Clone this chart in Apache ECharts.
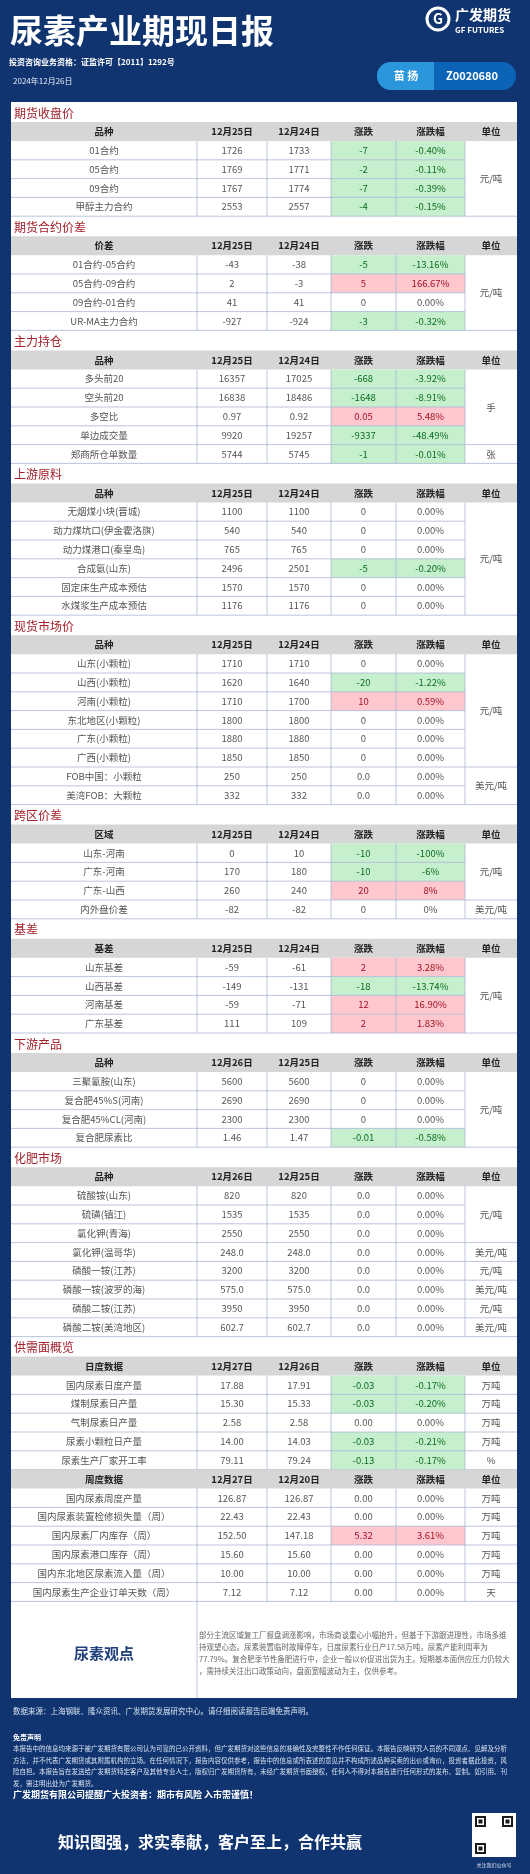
<!DOCTYPE html>
<html><head><meta charset="utf-8">
<script src="https://cdn.jsdelivr.net/npm/echarts@6/dist/echarts.min.js"></script>
<style>html,body{margin:0;padding:0;background:#0f3470}#c{width:530px;height:1874px}</style>
</head><body><div id="c"></div>
<script>
const colHeads = ['品种','12月25日','12月24日','涨跌','涨跌幅','单位'];
const sec1Rows = [['01合约','1726','1733','-7','-0.40%','元/吨'],['05合约','1769','1771','-2','-0.11%','元/吨'],['09合约','1767','1774','-7','-0.39%','元/吨'],['甲醇主力合约','2553','2557','-4','-0.15%','元/吨']];
const sec2Rows = [['01合约-05合约','-43','-38','-5','-13.16%','元/吨'],['05合约-09合约','2','-3','5','166.67%','元/吨'],['09合约-01合约','41','41','0','0.00%','元/吨'],['UR-MA主力合约','-927','-924','-3','-0.32%','元/吨']];
const sec3Rows = [['多头前20','16357','17025','-668','-3.92%','手'],['空头前20','16838','18486','-1648','-8.91%','手'],['多空比','0.97','0.92','0.05','5.48%','手'],['单边成交量','9920','19257','-9337','-48.49%','手'],['郑商所仓单数量','5744','5745','-1','-0.01%','张']];
const sec4Rows = [['无烟煤小块(晋城)','1100','1100','0','0.00%','元/吨'],['动力煤坑口(伊金霍洛旗)','540','540','0','0.00%','元/吨'],['动力煤港口(秦皇岛)','765','765','0','0.00%','元/吨'],['合成氨(山东)','2496','2501','-5','-0.20%','元/吨'],['固定床生产成本预估','1570','1570','0','0.00%','元/吨'],['水煤浆生产成本预估','1176','1176','0','0.00%','元/吨']];
const sec5Rows = [['山东(小颗粒)','1710','1710','0','0.00%','元/吨'],['山西(小颗粒)','1620','1640','-20','-1.22%','元/吨'],['河南(小颗粒)','1710','1700','10','0.59%','元/吨'],['东北地区(小颗粒)','1800','1800','0','0.00%','元/吨'],['广东(小颗粒)','1880','1880','0','0.00%','元/吨'],['广西(小颗粒)','1850','1850','0','0.00%','元/吨'],['FOB中国：小颗粒','250','250','0.0','0.00%','美元/吨'],['美湾FOB：大颗粒','332','332','0.0','0.00%','美元/吨']];
const sec6Rows = [['山东-河南','0','10','-10','-100%','元/吨'],['广东-河南','170','180','-10','-6%','元/吨'],['广东-山西','260','240','20','8%','元/吨'],['内外盘价差','-82','-82','0','0%','美元/吨']];
const sec7Rows = [['山东基差','-59','-61','2','3.28%','元/吨'],['山西基差','-149','-131','-18','-13.74%','元/吨'],['河南基差','-59','-71','12','16.90%','元/吨'],['广东基差','111','109','2','1.83%','元/吨']];
const sec8Rows = [['三聚氰胺(山东)','5600','5600','0','0.00%','元/吨'],['复合肥45%S(河南)','2690','2690','0','0.00%','元/吨'],['复合肥45%CL(河南)','2300','2300','0','0.00%','元/吨'],['复合肥尿素比','1.46','1.47','-0.01','-0.58%','元/吨']];
const sec9Rows = [['硫酸铵(山东)','820','820','0.0','0.00%','元/吨'],['硫磺(镇江)','1535','1535','0.0','0.00%','元/吨'],['氯化钾(青海)','2550','2550','0.0','0.00%','元/吨'],['氯化钾(温哥华)','248.0','248.0','0.0','0.00%','美元/吨'],['磷酸一铵(江苏)','3200','3200','0.0','0.00%','元/吨'],['磷酸一铵(波罗的海)','575.0','575.0','0.0','0.00%','美元/吨'],['磷酸二铵(江苏)','3950','3950','0.0','0.00%','元/吨'],['磷酸二铵(美湾地区)','602.7','602.7','0.0','0.00%','美元/吨']];
const sec10Daily = [['国内尿素日度产量','17.88','17.91','-0.03','-0.17%','万吨'],['煤制尿素日产量','15.30','15.33','-0.03','-0.20%','万吨'],['气制尿素日产量','2.58','2.58','0.00','0.00%','万吨'],['尿素小颗粒日产量','14.00','14.03','-0.03','-0.21%','万吨'],['尿素生产厂家开工率','79.11','79.24','-0.13','-0.17%','%']];
const sec10Weekly = [['国内尿素周度产量','126.87','126.87','0.00','0.00%','万吨'],['国内尿素装置检修损失量（周）','22.43','22.43','0.00','0.00%','万吨'],['国内尿素厂内库存（周）','152.50','147.18','5.32','3.61%','万吨'],['国内尿素港口库存（周）','15.60','15.60','0.00','0.00%','万吨'],['国内东北地区尿素流入量（周）','10.00','10.00','0.00','0.00%','万吨'],['国内尿素生产企业订单天数（周）','7.12','7.12','0.00','0.00%','天']];

const sections = [
 {title:'期货收盘价', tables:[{head:colHeads, rows:sec1Rows, merge:true}]},
 {title:'期货合约价差', tables:[{head:['价差','12月25日','12月24日','涨跌','涨跌幅','单位'], rows:sec2Rows, merge:true}]},
 {title:'主力持仓', tables:[{head:colHeads, rows:sec3Rows, merge:true}]},
 {title:'上游原料', tables:[{head:colHeads, rows:sec4Rows, merge:true}]},
 {title:'现货市场价', tables:[{head:colHeads, rows:sec5Rows, merge:true}]},
 {title:'跨区价差', tables:[{head:['区域','12月25日','12月24日','涨跌','涨跌幅','单位'], rows:sec6Rows, merge:true}]},
 {title:'基差', tables:[{head:['基差','12月25日','12月24日','涨跌','涨跌幅','单位'], rows:sec7Rows, merge:true}]},
 {title:'下游产品', tables:[{head:['品种','12月26日','12月25日','涨跌','涨跌幅','单位'], rows:sec8Rows, merge:true}]},
 {title:'化肥市场', tables:[{head:['品种','12月26日','12月25日','涨跌','涨跌幅','单位'], rows:sec9Rows, merge:true}]},
 {title:'供需面概览', tables:[{head:['日度数据','12月27日','12月26日','涨跌','涨跌幅','单位'], rows:sec10Daily, merge:false},{head:['周度数据','12月27日','12月20日','涨跌','涨跌幅','单位'], rows:sec10Weekly, merge:false}]}
];
const viewText = '部分主流区域复工厂报盘调涨影响，市场商谈重心小幅抬升，但基于下游跟进理性，市场多维持观望心态。尿素装置临时故障停车，日度尿素行业日产17.58万吨，尿素产能利用率为77.79%。复合肥季节性备肥进行中，企业一般以价促进出货为主。短期基本面供应压力仍较大，需持续关注出口政策动向，盘面宽幅波动为主，仅供参考。';

const F = '"Noto Sans CJK SC","Noto Sans",sans-serif';
const colX = [11,197,267,331,396,465,517];
const T = 20, H = 19, R = 18.8;
const G = [];
const LINE = '#a9b6d3';
function txt(x,y,s,size,color,extra){G.push(Object.assign({type:'text',x:x,y:y,style:Object.assign({text:s,fontSize:size,fill:color,fontFamily:F,align:'center',verticalAlign:'middle'},extra||{})}));}
function rect(x,y,w,h,fill,stroke){G.push({type:'rect',shape:{x:x,y:y,width:w,height:h},style:{fill:fill,stroke:stroke||null,lineWidth:stroke?0.8:0}});}
function line(x1,y1,x2,y2,c){G.push({type:'line',shape:{x1:x1,y1:y1,x2:x2,y2:y2},style:{stroke:c||LINE,lineWidth:0.8}});}

// header
txt(10,30,'尿素产业期现日报',33,'#ffffff',{align:'left',fontWeight:'bold'});
G.push({type:'circle',shape:{cx:438,cy:19,r:11},style:{fill:'none',stroke:'#ffffff',lineWidth:3}});
txt(438,19,'G',14,'#ffffff',{fontWeight:'bold'});
txt(455,15,'广发期货',14,'#ffffff',{align:'left',fontWeight:'bold'});
txt(455,30,'GF FUTURES',8,'#ffffff',{align:'left',fontWeight:'bold'});
txt(9,62,'投资咨询业务资格：证监许可【2011】1292号',8,'#ffffff',{align:'left',fontWeight:'bold'});
txt(13,81,'2024年12月26日',8,'#e6ecf5',{align:'left'});
G.push({type:'rect',shape:{x:377,y:62,width:139,height:28,r:14},style:{fill:'#0b64b8'}});
G.push({type:'rect',shape:{x:377,y:62,width:57,height:28,r:[14,0,0,14]},style:{fill:'#2a97dd'}});
txt(406,76,'苗 扬',11,'#ffffff',{fontWeight:'bold'});
txt(472,76,'Z0020680',11,'#ffffff',{fontWeight:'bold'});

// panel
let y = 102;
const panelTop = y;
rect(11,102,506,1596,'#ffffff');
sections.forEach(sec=>{
  txt(14,y+T/2+1,sec.title,12,'#a3202a',{align:'left'});
  y += T;
  sec.tables.forEach(tb=>{
    rect(11,y,506,H,'#d6d6d6');
    tb.head.forEach((h,i)=>txt((colX[i]+colX[i+1])/2,y+H/2,h,9.5,'#222',{fontWeight:'bold'}));
    y += H;
    const top = y;
    tb.rows.forEach((r,ri)=>{
      const ry = top+ri*R;
      const v = parseFloat(r[3]);
      let fg='#555';
      if(v<0){rect(colX[3],ry,colX[5]-colX[3],R,'#c6efce');fg='#0b6b1f';}
      else if(v>0){rect(colX[3],ry,colX[5]-colX[3],R,'#ffc7ce');fg='#a0121f';}
      for(let i=0;i<5;i++) txt((colX[i]+colX[i+1])/2,ry+R/2,r[i],9.5,(i>=3)?fg:'#555');
    });
    // units with merging
    let i=0;
    while(i<tb.rows.length){
      let j=i;
      if(tb.merge) while(j+1<tb.rows.length && tb.rows[j+1][5]===tb.rows[i][5]) j++;
      const cy = top+(i+j+1)*R/2;
      txt((colX[5]+colX[6])/2,cy,tb.rows[i][5],9.5,'#555');
      if(i>0) line(colX[5],top+i*R,colX[6],top+i*R);
      i=j+1;
    }
    for(let k=1;k<tb.rows.length;k++) line(colX[0],top+k*R,colX[5],top+k*R);
    const bot = top+tb.rows.length*R;
    for(let c=1;c<6;c++) line(colX[c],top,colX[c],bot);
    line(colX[0],bot,colX[6],bot);
    y = bot;
  });
});
// view block
line(colX[1],y,colX[1],1698);
txt(104,(y+1698)/2+4,'尿素观点',15,'#1f3f7a',{fontWeight:'bold'});
G.push({type:'text',x:199,y:y+28,style:{text:viewText,width:312,overflow:'break',fontSize:7.5,lineHeight:12,fill:'#666',fontFamily:F}});

// footer
txt(13,1711,'数据来源：上海钢联、隆众资讯、广发期货发展研究中心。请仔细阅读报告后端免责声明。',7.5,'#d9e1ee',{align:'left'});
txt(13,1737,'免责声明',7,'#ffffff',{align:'left',fontWeight:'bold'});
G.push({type:'text',x:13,y:1743,style:{text:'本报告中的信息均来源于被广发期货有限公司认为可靠的已公开资料，但广发期货对这些信息的准确性及完整性不作任何保证。本报告反映研究人员的不同观点、见解及分析方法，并不代表广发期货或其附属机构的立场。在任何情况下，报告内容仅供参考，报告中的信息或所表述的意见并不构成所述品种买卖的出价或询价，投资者据此投资，风险自担。本报告旨在发送给广发期货特定客户及其他专业人士，版权归广发期货所有，未经广发期货书面授权，任何人不得对本报告进行任何形式的发布、复制。如引用、刊发，需注明出处为广发期货。',width:500,overflow:'break',fontSize:6.5,lineHeight:11.5,fill:'#d9e1ee',fontFamily:F}});
txt(13,1795,'广发期货有限公司提醒广大投资者：期市有风险 入市需谨慎！',9,'#ffffff',{align:'left',fontWeight:'bold'});
txt(210,1842,'知识图强，求实奉献，客户至上，合作共赢',16,'#ffffff',{fontWeight:'bold'});
rect(472,1813,44,44,'#ffffff');
for(let a=0;a<3;a++){const qx=[475,502,475][a],qy=[1816,1816,1843][a];rect(qx,qy,11,11,'#1a1a1a');rect(qx+2,qy+2,7,7,'#ffffff');rect(qx+3.5,qy+3.5,4,4,'#1a1a1a');}
txt(494,1865,'关注我们公众号',5,'#d9e1ee');

const chart = echarts.init(document.getElementById('c'),null,{renderer:'canvas'});
chart.setOption({backgroundColor:'#0f3470',animation:false,graphic:G});
</script></body></html>
